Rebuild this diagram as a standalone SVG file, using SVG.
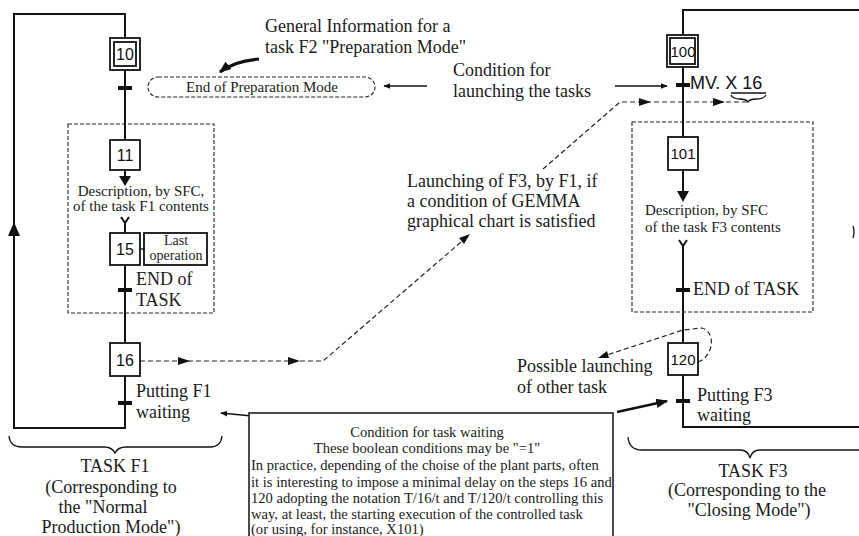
<svg xmlns="http://www.w3.org/2000/svg" width="859" height="536" viewBox="0 0 859 536">
<defs>
<style>
.ln{fill:none;stroke:#111;stroke-width:2}
.th{fill:none;stroke:#111;stroke-width:1.3}
.ds{fill:none;stroke:#222;stroke-width:1.2;stroke-dasharray:5 3}
.box{fill:#fff;stroke:#111;stroke-width:1.8}
.bar{fill:#111}
.ah{fill:#111}
.num{font-family:"Liberation Sans",Arial,sans-serif;font-size:16px;fill:#111;text-anchor:middle}
.ser{font-family:"Liberation Serif","Times New Roman",serif;fill:#1a1a1a}
.t18{font-size:18px}
.t15{font-size:15px}
.t14{font-size:14.6px}
.t13{font-size:15px}
.t12{font-size:14px}
</style>
<marker id="arr" viewBox="0 0 10 10" refX="9" refY="5" markerWidth="7" markerHeight="7" orient="auto" markerUnits="userSpaceOnUse">
<path d="M0,1 L10,5 L0,9 z" fill="#111"/>
</marker>
<marker id="arrB" viewBox="0 0 10 10" refX="9" refY="5" markerWidth="12" markerHeight="12" orient="auto" markerUnits="userSpaceOnUse">
<path d="M0,1 L10,5 L0,9 z" fill="#111"/>
</marker>
</defs>
<rect width="859" height="536" fill="#fff"/>

<g id="connectors">
<!-- Left SFC (task F1) -->
<path class="ln" d="M125,38 V14 H14 V428 H125 V376"/>
<path class="ln" d="M125,70 V140"/>
<path class="ln" d="M125,170 V178"/>
<path class="ah" d="M119,176 L131,176 L125,186 z"/>
<path class="ln" d="M121,217 L125,223 L129,217 M125,223 V233"/>
<path class="ln" d="M125,265 V343"/>
<path class="th" d="M140,249 H144"/>
<path class="ah" d="M14,222 L8,236 L20,236 z"/>
<!-- Right SFC (task F3) -->
<path class="ln" d="M683,35 V10 H859"/>
<path class="ln" d="M683,67 V137"/>
<path class="ln" d="M683,170 V194"/>
<path class="ah" d="M677,191 L689,191 L683,202 z"/>
<path class="ln" d="M679,240 L683,246 L687,240 M683,246 V343"/>
<path class="ln" d="M683,375 V427 H859"/>
<path class="th" d="M853,226 Q855,232 853,238"/>
<!-- transitions -->
<rect class="bar" x="118" y="86" width="14" height="4"/>
<rect class="bar" x="118" y="288" width="14" height="4"/>
<rect class="bar" x="118" y="401" width="14" height="4"/>
<rect class="bar" x="676" y="83" width="14" height="4"/>
<rect class="bar" x="676" y="288" width="14" height="4"/>
<rect class="bar" x="676" y="399" width="14" height="4"/>
<!-- Launching dashed connector from 16 to MV. X 16 -->
<path class="ds" d="M140,361 H323 L468,236"/>
<path class="ds" d="M543,169 L620,102 H748"/>
<path class="ah" d="M178,357 L190,361 L178,365 z"/>
<path class="ah" d="M288,357 L300,361 L288,365 z"/>
<path class="ah" d="M470,234 L459,238 L464,244 z"/>
<path class="ah" d="M639,98 L651,102 L639,106 z"/>
<path class="ah" d="M713,98 L725,102 L713,106 z"/>
<!-- underline and brace under X 16 -->
<path class="th" d="M731,93 H766"/>
<path class="th" d="M731,95 Q733,99 740,99 Q746,99 748,102 Q750,99 756,99 Q764,99 766,95"/>
<!-- Condition for launching arrows -->
<path class="th" d="M615,86 H667" marker-end="url(#arr)"/>
<path class="th" d="M427,86 H384" marker-end="url(#arr)"/>
<!-- General Information curved arrow -->
<path fill="none" stroke="#111" stroke-width="3.2" d="M259,59 Q234,61 220,72" marker-end="url(#arrB)"/>
<!-- Possible launching dashed loop -->
<path class="ds" d="M698,362 C714,356 716,332 702,328 L683,330 L604,356"/>
<path class="ah" d="M598,358 L607,351 L609,358 z"/>
<!-- Condition for task waiting arrows -->
<path class="th" d="M252,416 L221,413" marker-end="url(#arr)"/>
<path fill="none" stroke="#111" stroke-width="2.4" d="M617,412 L667,401" marker-end="url(#arrB)"/>
<!-- braces -->
<path class="th" d="M9,436 Q10,447 22,447 H104 Q112,447 115,453 Q118,447 126,447 H210 Q221,447 222,436"/>
<path class="th" d="M628,437 Q629,450 642,450 H740 Q748,450 750,458 Q752,450 760,450 H859"/>
</g>

<g id="step10">
<rect class="box" x="110" y="38" width="30" height="32" stroke-width="2.2"/>
<rect class="box" x="114" y="42" width="22" height="24" stroke-width="1.3"/>
<text class="num" x="125" y="60">10</text>
</g>
<g id="pill-end-preparation">
<rect x="148" y="77" width="227" height="20" rx="10" ry="10" fill="none" stroke="#222" stroke-width="1.1" stroke-dasharray="4 2"/>
<text class="ser t13" x="262" y="92" text-anchor="middle">End of Preparation Mode</text>
</g>
<g id="task-f1-frame">
<rect x="68" y="124" width="146" height="189" fill="none" stroke="#222" stroke-width="1.1" stroke-dasharray="4 2"/>
</g>
<g id="step11">
<rect class="box" x="110" y="140" width="30" height="30"/>
<text class="num" x="125" y="161">11</text>
</g>
<g id="f1-description">
<text class="ser t15" x="141" y="196" text-anchor="middle">Description, by SFC,</text>
<text class="ser t15" x="141" y="211" text-anchor="middle">of the task F1 contents</text>
</g>
<g id="step15">
<rect class="box" x="110" y="233" width="30" height="32"/>
<text class="num" x="125" y="255">15</text>
</g>
<g id="action15">
<rect class="box" x="144" y="233" width="63" height="32" stroke-width="1.5"/>
<text class="ser t12" x="176" y="245" text-anchor="middle">Last</text>
<text class="ser t12" x="176" y="260" text-anchor="middle">operation</text>
</g>
<g id="end-task-f1">
<text class="ser t18" x="136" y="285">END of</text>
<text class="ser t18" x="136" y="306">TASK</text>
</g>
<g id="step16">
<rect class="box" x="110" y="343" width="30" height="33"/>
<text class="num" x="125" y="366">16</text>
</g>
<g id="putting-f1">
<text class="ser t18" x="136" y="397">Putting F1</text>
<text class="ser t18" x="136" y="418">waiting</text>
</g>
<g id="task-f1-label">
<text class="ser t18" x="115" y="472" text-anchor="middle">TASK F1</text>
<text class="ser t18" x="111" y="493" text-anchor="middle">(Corresponding to</text>
<text class="ser t18" x="103" y="513" text-anchor="middle">the "Normal</text>
<text class="ser t18" x="111" y="533" text-anchor="middle">Production Mode")</text>
</g>

<g id="general-info">
<text class="ser t18" x="265" y="32">General Information for a</text>
<text class="ser t18" x="265" y="53">task F2 "Preparation Mode"</text>
</g>
<g id="condition-launch">
<text class="ser t18" x="453" y="76">Condition for</text>
<text class="ser t18" x="453" y="97">launching the tasks</text>
</g>
<g id="launching-f3">
<text class="ser t18" x="407" y="187">Launching of F3, by F1, if</text>
<text class="ser t18" x="407" y="207">a condition of GEMMA</text>
<text class="ser t18" x="407" y="227">graphical chart is satisfied</text>
</g>

<g id="step100">
<rect class="box" x="667" y="35" width="31" height="32" stroke-width="2.2"/>
<rect class="box" x="670" y="38" width="25" height="26" stroke-width="1.3"/>
<text class="num" x="683" y="57" style="font-size:15px">100</text>
</g>
<g id="mv-x16">
<text x="690" y="89" style="font-family:'Liberation Sans',Arial,sans-serif;font-size:18px;fill:#111">MV. X 16</text>
</g>
<g id="task-f3-frame">
<rect x="632" y="122" width="181" height="190" fill="none" stroke="#222" stroke-width="1.1" stroke-dasharray="4 2"/>
</g>
<g id="step101">
<rect class="box" x="668" y="137" width="30" height="33"/>
<text class="num" x="683" y="159" style="font-size:15px">101</text>
</g>
<g id="f3-description">
<text class="ser t15" x="645" y="215">Description, by SFC</text>
<text class="ser t15" x="645" y="232">of the task F3 contents</text>
</g>
<g id="end-task-f3">
<text class="ser t18" x="693" y="295">END of TASK</text>
</g>
<g id="step120">
<rect class="box" x="668" y="343" width="30" height="32"/>
<text class="num" x="683" y="365" style="font-size:15px">120</text>
</g>
<g id="possible-launching">
<text class="ser t18" x="517" y="372">Possible launching</text>
<text class="ser t18" x="517" y="393">of other task</text>
</g>
<g id="putting-f3">
<text class="ser t18" x="697" y="401">Putting F3</text>
<text class="ser t18" x="697" y="421">waiting</text>
</g>
<g id="task-f3-label">
<text class="ser t18" x="753" y="477" text-anchor="middle">TASK F3</text>
<text class="ser t18" x="747" y="496" text-anchor="middle">(Corresponding to the</text>
<text class="ser t18" x="749" y="516" text-anchor="middle">"Closing Mode")</text>
</g>

<g id="waiting-condition-box">
<rect x="249" y="413" width="364" height="124" fill="#fff" stroke="#111" stroke-width="1.5"/>
<text class="ser t14" x="427" y="437" text-anchor="middle">Condition for task waiting</text>
<text class="ser t14" x="427" y="453" text-anchor="middle">These boolean conditions may be "=1"</text>
<text class="ser t14" x="251" y="470">In practice, depending of the choise of the plant parts, often</text>
<text class="ser t14" x="251" y="487">it is interesting to impose a minimal delay on the steps 16 and</text>
<text class="ser t14" x="251" y="503">120  adopting the notation T/16/t and T/120/t controlling this</text>
<text class="ser t14" x="251" y="519">way, at least, the starting execution of the controlled task</text>
<text class="ser t14" x="251" y="534">(or using, for instance, X101)</text>
</g>
</svg>
